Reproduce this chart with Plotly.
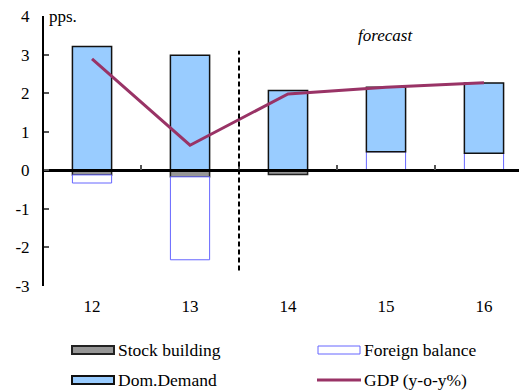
import plotly.graph_objects as go

categories = ["12", "13", "14", "15", "16"]
stock_building = [-0.12, -0.17, -0.11, 0.0, 0.0]
foreign_balance = [-0.21, -2.15, 0.0, 0.48, 0.44]
dom_demand = [3.21, 2.98, 2.07, 1.67, 1.82]
gdp = [2.89, 0.65, 1.98, 2.15, 2.27]
y_ticks = [-3, -2, -1, 0, 1, 2, 3, 4]

FONT = "Liberation Serif"
xs = list(range(len(categories)))

fig = go.Figure()
fig.add_trace(go.Bar(x=xs, y=stock_building, name="Stock building", width=0.4,
                     marker=dict(color="#969696", line=dict(color="#222222", width=1.5))))
fig.add_trace(go.Bar(x=xs, y=foreign_balance, name="Foreign balance", width=0.4,
                     marker=dict(color="#FFFFFF", line=dict(color="#6666FF", width=1))))
fig.add_trace(go.Bar(x=xs, y=dom_demand, name="Dom.Demand", width=0.4,
                     marker=dict(color="#99CCFF", line=dict(color="#111111", width=1.5))))
fig.add_trace(go.Scatter(x=xs, y=gdp, name="GDP (y-o-y%)", mode="lines",
                         xaxis="x2", line=dict(color="#993366", width=3)))

# page offset of 8px (body margin) compensated in figure size/margins
OFF = 8
xr = [-0.49, 4.439]
fig.update_layout(
    width=527 - OFF, height=392 - OFF,
    margin=dict(l=44 - OFF, r=0, t=16 - OFF, b=106),
    paper_bgcolor="white", plot_bgcolor="white",
    barmode="relative", showlegend=False,
    font=dict(family=FONT, size=15, color="black"),
    xaxis=dict(range=xr, tickvals=xs, ticktext=categories, showgrid=False,
               zeroline=False, showline=False, ticks="", ticklabelstandoff=8,
               tickfont=dict(family=FONT, size=17, color="black")),
    xaxis2=dict(range=xr, overlaying="x", anchor="free", position=3/7, side="bottom",
                tickvals=[0.5, 1.5, 2.5, 3.5], ticks="inside", ticklen=5, tickwidth=2,
                tickcolor="#555555", showticklabels=False, showline=True,
                linecolor="black", linewidth=2.5, showgrid=False, zeroline=False),
    yaxis=dict(range=[-3, 4], tickvals=y_ticks, ticktext=[str(v) for v in y_ticks],
               showgrid=False, zeroline=False, ticklabeloverflow="allow",
               showline=True, linecolor="black", linewidth=2, ticks="inside",
               ticklen=5, tickwidth=1.5, tickcolor="#555555", ticklabelstandoff=9,
               tickfont=dict(family=FONT, size=17, color="black")),
)

pl, pt, pw, ph = 44, 16, 483, 270

def px(xp):
    return (xp - pl) / pw

def py(yp):
    return (pt + ph - yp) / ph

# forecast separator
fig.add_shape(type="line", xref="x", yref="y", x0=1.5, x1=1.5, y0=-2.6, y1=3.1,
              line=dict(color="black", width=2, dash="5px,3px"))
fig.add_annotation(x=3.0, y=3.5, xref="x", yref="y", text="<i>forecast</i>",
                   showarrow=False, font=dict(family=FONT, size=17, color="black"))
fig.add_annotation(x=px(47), y=py(17), xref="paper", yref="paper", text="pps.",
                   showarrow=False, xanchor="left", yanchor="middle",
                   font=dict(family=FONT, size=17, color="black"))

legend_items = [
    ("Stock building", 72, 350, dict(fillcolor="#969696", line=dict(color="#222222", width=2)), "box"),
    ("Foreign balance", 318, 350, dict(fillcolor="#FFFFFF", line=dict(color="#6666FF", width=1)), "box"),
    ("Dom.Demand", 72, 380, dict(fillcolor="#99CCFF", line=dict(color="#111111", width=2)), "box"),
    ("GDP (y-o-y%)", 318, 380, dict(line=dict(color="#993366", width=3)), "line"),
]
for label, lx, ly, style, kind in legend_items:
    if kind == "box":
        fig.add_shape(type="rect", xref="paper", yref="paper",
                      x0=px(lx), x1=px(lx + 42), y0=py(ly - 4), y1=py(ly + 4), **style)
    else:
        fig.add_shape(type="line", xref="paper", yref="paper",
                      x0=px(lx - 1), x1=px(lx + 43), y0=py(ly), y1=py(ly), **style)
    fig.add_annotation(x=px(lx + 44), y=py(ly), xref="paper", yref="paper", text=label,
                       showarrow=False, xanchor="left", yanchor="middle",
                       font=dict(family=FONT, size=17.5, color="black"))

fig.write_html("out.html")
